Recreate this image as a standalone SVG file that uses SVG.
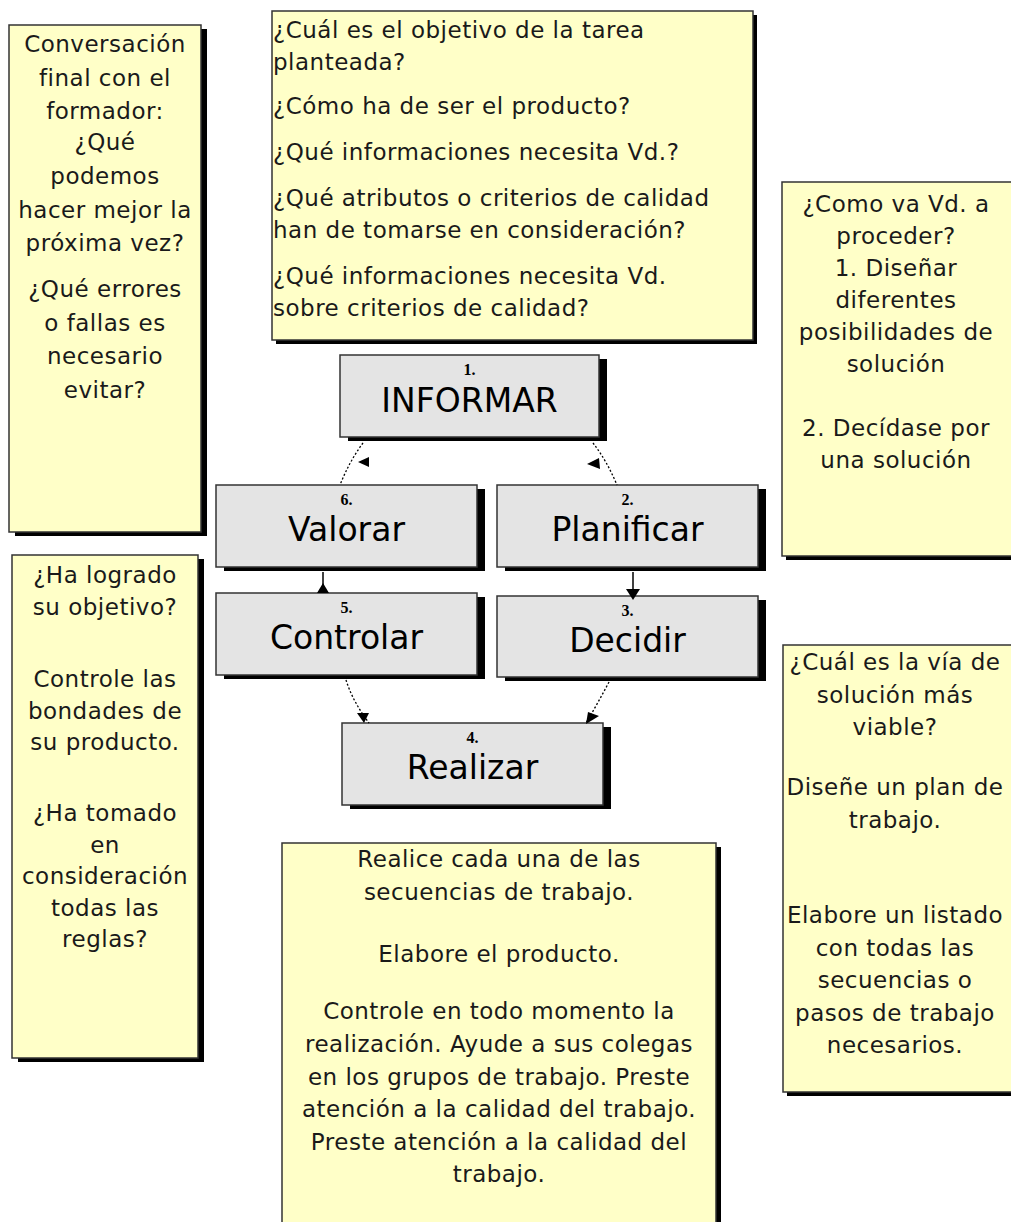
<svg xmlns="http://www.w3.org/2000/svg" width="1011" height="1222" viewBox="0 0 1011 1222">
<style>
.note{fill:#FFFFC8;stroke:#333;stroke-width:1.5}
.shadow{fill:#000}
.step{fill:#E4E4E4;stroke:#333;stroke-width:1.5}
.t{font-family:"DejaVu Sans",Verdana,sans-serif;font-size:23px;fill:#1a1a1a;letter-spacing:0.5px}
.c{text-anchor:middle}
.num{font-family:"Liberation Serif","Times New Roman",serif;font-weight:bold;font-size:16px;fill:#000;text-anchor:middle}
.lbl{font-family:"DejaVu Sans",Verdana,sans-serif;font-size:33px;fill:#000;text-anchor:middle}
.dot{fill:none;stroke:#000;stroke-width:1.3;stroke-dasharray:2 2}
.solid{fill:none;stroke:#000;stroke-width:1.5}
.head{fill:#000}
</style>
<rect width="1011" height="1222" fill="#fff"/>

<g id="note-final">
<rect class="shadow" x="15" y="29" width="192" height="507"/>
<rect class="note" x="9" y="25" width="192" height="507"/>
<text class="t c" x="105" y="52">Conversación</text>
<text class="t c" x="105" y="85.5">final con el</text>
<text class="t c" x="105" y="119">formador:</text>
<text class="t c" x="105" y="150">¿Qué</text>
<text class="t c" x="105" y="184">podemos</text>
<text class="t c" x="105" y="218">hacer mejor la</text>
<text class="t c" x="105" y="251">próxima vez?</text>
<text class="t c" x="105" y="297">¿Qué errores</text>
<text class="t c" x="105" y="330.5">o fallas es</text>
<text class="t c" x="105" y="364">necesario</text>
<text class="t c" x="105" y="397.5">evitar?</text>
</g>

<g id="note-informar">
<rect class="shadow" x="276" y="15" width="481" height="329"/>
<rect class="note" x="272" y="11" width="481" height="329"/>
<text class="t" x="273" y="38">¿Cuál es el objetivo de la tarea</text>
<text class="t" x="273" y="69.5">planteada?</text>
<text class="t" x="273" y="114">¿Cómo ha de ser el producto?</text>
<text class="t" x="273" y="160">¿Qué informaciones necesita Vd.?</text>
<text class="t" x="273" y="206">¿Qué atributos o criterios de calidad</text>
<text class="t" x="273" y="238">han de tomarse en consideración?</text>
<text class="t" x="273" y="284">¿Qué informaciones necesita Vd.</text>
<text class="t" x="273" y="316">sobre criterios de calidad?</text>
</g>

<g id="note-planificar">
<rect class="shadow" x="786" y="186" width="240" height="374"/>
<rect class="note" x="782" y="182" width="240" height="374"/>
<text class="t c" x="896" y="212">¿Como va Vd. a</text>
<text class="t c" x="896" y="244">proceder?</text>
<text class="t c" x="896" y="276">1. Diseñar</text>
<text class="t c" x="896" y="308">diferentes</text>
<text class="t c" x="896" y="340">posibilidades de</text>
<text class="t c" x="896" y="372">solución</text>
<text class="t c" x="896" y="436">2. Decídase por</text>
<text class="t c" x="896" y="468">una solución</text>
</g>

<g id="note-controlar">
<rect class="shadow" x="18" y="559" width="186" height="503"/>
<rect class="note" x="12" y="555" width="186" height="503"/>
<text class="t c" x="105" y="583">¿Ha logrado</text>
<text class="t c" x="105" y="614.5">su objetivo?</text>
<text class="t c" x="105" y="687">Controle las</text>
<text class="t c" x="105" y="718.5">bondades de</text>
<text class="t c" x="105" y="750">su producto.</text>
<text class="t c" x="105" y="821">¿Ha tomado</text>
<text class="t c" x="105" y="852.5">en</text>
<text class="t c" x="105" y="884">consideración</text>
<text class="t c" x="105" y="915.5">todas las</text>
<text class="t c" x="105" y="947">reglas?</text>
</g>

<g id="note-decidir">
<rect class="shadow" x="787" y="649" width="240" height="447"/>
<rect class="note" x="783" y="645" width="240" height="447"/>
<text class="t c" x="895" y="670">¿Cuál es la vía de</text>
<text class="t c" x="895" y="702.5">solución más</text>
<text class="t c" x="895" y="735">viable?</text>
<text class="t c" x="895" y="795">Diseñe un plan de</text>
<text class="t c" x="895" y="827.5">trabajo.</text>
<text class="t c" x="895" y="923">Elabore un listado</text>
<text class="t c" x="895" y="955.5">con todas las</text>
<text class="t c" x="895" y="988">secuencias o</text>
<text class="t c" x="895" y="1020.5">pasos de trabajo</text>
<text class="t c" x="895" y="1053">necesarios.</text>
</g>

<g id="note-realizar">
<rect class="shadow" x="287" y="847" width="434" height="400"/>
<rect class="note" x="282" y="843" width="434" height="400"/>
<text class="t c" x="499" y="867">Realice cada una de las</text>
<text class="t c" x="499" y="900">secuencias de trabajo.</text>
<text class="t c" x="499" y="962">Elabore el producto.</text>
<text class="t c" x="499" y="1019">Controle en todo momento la</text>
<text class="t c" x="499" y="1052">realización. Ayude a sus colegas</text>
<text class="t c" x="499" y="1085">en los grupos de trabajo. Preste</text>
<text class="t c" x="499" y="1117">atención a la calidad del trabajo.</text>
<text class="t c" x="499" y="1150">Preste atención a la calidad del</text>
<text class="t c" x="499" y="1182">trabajo.</text>
</g>

<g id="step-1">
<rect class="shadow" x="348" y="359" width="259" height="82"/>
<rect class="step" x="340" y="355" width="259" height="82"/>
<text class="num" x="469.5" y="375">1.</text>
<text class="lbl" x="469.5" y="412">INFORMAR</text>
</g>

<g id="step-2">
<rect class="shadow" x="505" y="489" width="261" height="82"/>
<rect class="step" x="497" y="485" width="261" height="82"/>
<text class="num" x="627.5" y="505">2.</text>
<text class="lbl" x="627.5" y="541">Planificar</text>
</g>

<g id="step-3">
<rect class="shadow" x="505" y="600" width="261" height="81"/>
<rect class="step" x="497" y="596" width="261" height="81"/>
<text class="num" x="627.5" y="616">3.</text>
<text class="lbl" x="627.5" y="652">Decidir</text>
</g>

<g id="step-4">
<rect class="shadow" x="350" y="727" width="261" height="82"/>
<rect class="step" x="342" y="723" width="261" height="82"/>
<text class="num" x="472.5" y="743">4.</text>
<text class="lbl" x="472.5" y="779">Realizar</text>
</g>

<g id="step-5">
<rect class="shadow" x="224" y="597" width="261" height="82"/>
<rect class="step" x="216" y="593" width="261" height="82"/>
<text class="num" x="346.5" y="613">5.</text>
<text class="lbl" x="346.5" y="649">Controlar</text>
</g>

<g id="step-6">
<rect class="shadow" x="224" y="489" width="261" height="82"/>
<rect class="step" x="216" y="485" width="261" height="82"/>
<text class="num" x="346.5" y="505">6.</text>
<text class="lbl" x="346.5" y="541">Valorar</text>
</g>

<g id="connectors">
<path class="dot" d="M363,443 Q349,462 340,485"/>
<polygon class="head" points="358,462 369,457 369,467"/>
<path class="dot" d="M593,443 Q607,461 617,485"/>
<polygon class="head" points="587,464 599,458 600,469"/>
<path class="solid" d="M323,572 V593"/>
<polygon class="head" points="323,583 317,593 329,593"/>
<path class="solid" d="M633,572 V596"/>
<polygon class="head" points="626,589 640,589 633,600"/>
<path class="dot" d="M346,680 Q353,702 369,723"/>
<polygon class="head" points="357,713 369,713 364,723"/>
<path class="dot" d="M609,682 Q598,703 586,723"/>
<polygon class="head" points="588,712 599,716 586,724"/>
</g>
</svg>
